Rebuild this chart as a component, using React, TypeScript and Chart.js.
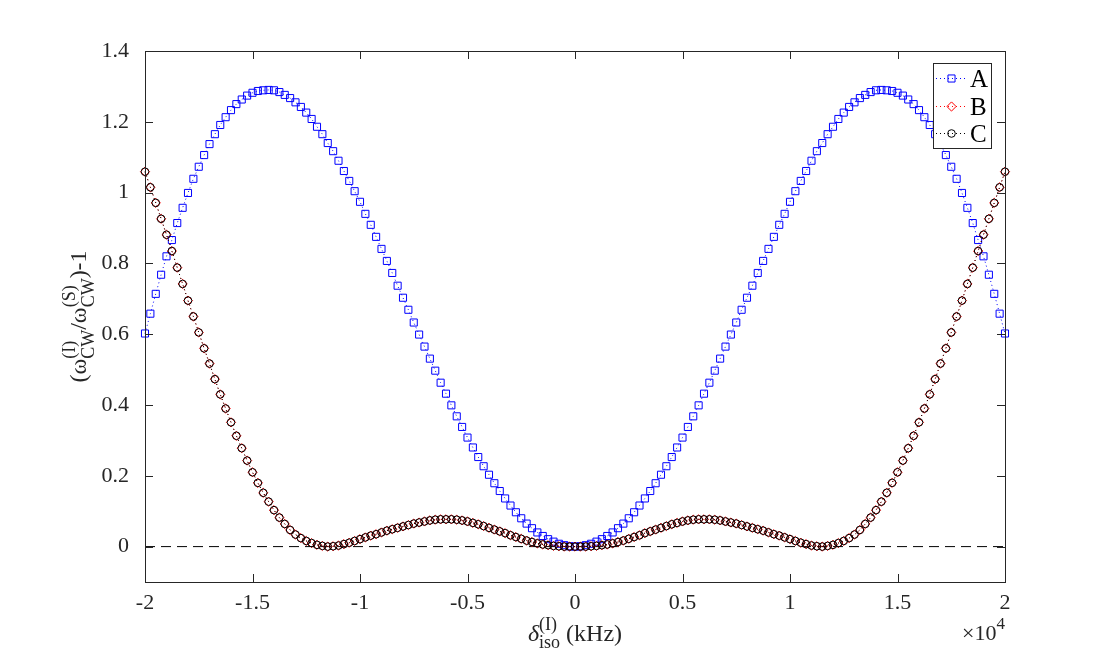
import { useEffect, useRef } from 'react'
import { Chart, registerables } from 'chart.js'
import type { Plugin } from 'chart.js'

Chart.register(...registerables)

const FONT = '"Liberation Serif", "Times New Roman", serif'
const AXIS = '#262626'

// isotropic shift, Hz (plotted with a x10^4 multiplier)
const deltaIso = [
  -20000, -19750, -19500, -19250, -19000, -18750, -18500, -18250, -18000, -17750,
  -17500, -17250, -17000, -16750, -16500, -16250, -16000, -15750, -15500, -15250,
  -15000, -14750, -14500, -14250, -14000, -13750, -13500, -13250, -13000, -12750,
  -12500, -12250, -12000, -11750, -11500, -11250, -11000, -10750, -10500, -10250,
  -10000, -9750, -9500, -9250, -9000, -8750, -8500, -8250, -8000, -7750,
  -7500, -7250, -7000, -6750, -6500, -6250, -6000, -5750, -5500, -5250,
  -5000, -4750, -4500, -4250, -4000, -3750, -3500, -3250, -3000, -2750,
  -2500, -2250, -2000, -1750, -1500, -1250, -1000, -750, -500, -250,
  0,
  250, 500, 750, 1000, 1250, 1500, 1750, 2000, 2250, 2500,
  2750, 3000, 3250, 3500, 3750, 4000, 4250, 4500, 4750, 5000,
  5250, 5500, 5750, 6000, 6250, 6500, 6750, 7000, 7250, 7500,
  7750, 8000, 8250, 8500, 8750, 9000, 9250, 9500, 9750, 10000,
  10250, 10500, 10750, 11000, 11250, 11500, 11750, 12000, 12250, 12500,
  12750, 13000, 13250, 13500, 13750, 14000, 14250, 14500, 14750, 15000,
  15250, 15500, 15750, 16000, 16250, 16500, 16750, 17000, 17250, 17500,
  17750, 18000, 18250, 18500, 18750, 19000, 19250, 19500, 19750, 20000,
]

const seriesA = [
  0.602, 0.658, 0.714, 0.768, 0.820, 0.866, 0.914, 0.957, 0.999, 1.039,
  1.073, 1.106, 1.137, 1.165, 1.191, 1.213, 1.233, 1.250, 1.263, 1.274,
  1.282, 1.287, 1.289, 1.290, 1.289, 1.284, 1.276, 1.267, 1.255, 1.242,
  1.226, 1.208, 1.186, 1.165, 1.140, 1.117, 1.090, 1.061, 1.033, 1.004,
  0.974, 0.940, 0.909, 0.875, 0.841, 0.807, 0.773, 0.737, 0.703, 0.669,
  0.633, 0.599, 0.565, 0.531, 0.497, 0.463, 0.432, 0.399, 0.368, 0.338,
  0.308, 0.280, 0.253, 0.227, 0.203, 0.179, 0.157, 0.136, 0.116, 0.097,
  0.080, 0.065, 0.052, 0.040, 0.030, 0.021, 0.014, 0.008, 0.004, 0.001,
  0.000,
  0.001, 0.004, 0.008, 0.014, 0.021, 0.030, 0.040, 0.052, 0.065, 0.080,
  0.097, 0.116, 0.136, 0.157, 0.179, 0.203, 0.227, 0.253, 0.280, 0.308,
  0.338, 0.368, 0.399, 0.432, 0.463, 0.497, 0.531, 0.565, 0.599, 0.633,
  0.669, 0.703, 0.737, 0.773, 0.807, 0.841, 0.875, 0.909, 0.940, 0.974,
  1.004, 1.033, 1.061, 1.090, 1.117, 1.140, 1.165, 1.186, 1.208, 1.226,
  1.242, 1.255, 1.267, 1.276, 1.284, 1.289, 1.290, 1.289, 1.287, 1.282,
  1.274, 1.263, 1.250, 1.233, 1.213, 1.191, 1.165, 1.137, 1.106, 1.073,
  1.039, 0.999, 0.957, 0.914, 0.866, 0.820, 0.768, 0.714, 0.658, 0.602,
]

const seriesB = [
  1.059, 1.015, 0.971, 0.926, 0.881, 0.835, 0.788, 0.742, 0.695, 0.650,
  0.605, 0.560, 0.517, 0.473, 0.430, 0.390, 0.351, 0.313, 0.278, 0.243,
  0.210, 0.180, 0.152, 0.127, 0.103, 0.082, 0.064, 0.047, 0.034, 0.024,
  0.016, 0.010, 0.005, 0.002, 0.000, 0.001, 0.003, 0.007, 0.011, 0.016,
  0.021, 0.026, 0.031, 0.035, 0.040, 0.045, 0.049, 0.053, 0.057, 0.061,
  0.065, 0.068, 0.071, 0.074, 0.076, 0.077, 0.077, 0.077, 0.076, 0.074,
  0.071, 0.067, 0.063, 0.058, 0.053, 0.048, 0.043, 0.038, 0.032, 0.027,
  0.022, 0.017, 0.013, 0.009, 0.006, 0.004, 0.002, 0.001, 0.000, 0.000,
  0.000,
  0.000, 0.000, 0.001, 0.002, 0.004, 0.006, 0.009, 0.013, 0.017, 0.022,
  0.027, 0.032, 0.038, 0.043, 0.048, 0.053, 0.058, 0.063, 0.067, 0.071,
  0.074, 0.076, 0.077, 0.077, 0.077, 0.076, 0.074, 0.071, 0.068, 0.065,
  0.061, 0.057, 0.053, 0.049, 0.045, 0.040, 0.035, 0.031, 0.026, 0.021,
  0.016, 0.011, 0.007, 0.003, 0.001, 0.000, 0.002, 0.005, 0.010, 0.016,
  0.024, 0.034, 0.047, 0.064, 0.082, 0.103, 0.127, 0.152, 0.180, 0.210,
  0.243, 0.278, 0.313, 0.351, 0.390, 0.430, 0.473, 0.517, 0.560, 0.605,
  0.650, 0.695, 0.742, 0.788, 0.835, 0.881, 0.926, 0.971, 1.015, 1.059,
]

const seriesC = [
  1.059, 1.015, 0.971, 0.926, 0.881, 0.835, 0.788, 0.742, 0.695, 0.650,
  0.605, 0.560, 0.517, 0.473, 0.430, 0.390, 0.351, 0.313, 0.278, 0.243,
  0.210, 0.180, 0.152, 0.127, 0.103, 0.082, 0.064, 0.047, 0.034, 0.024,
  0.016, 0.010, 0.005, 0.002, 0.000, 0.001, 0.003, 0.007, 0.011, 0.016,
  0.021, 0.026, 0.031, 0.035, 0.040, 0.045, 0.049, 0.053, 0.057, 0.061,
  0.065, 0.068, 0.071, 0.074, 0.076, 0.077, 0.077, 0.077, 0.076, 0.074,
  0.071, 0.067, 0.063, 0.058, 0.053, 0.048, 0.043, 0.038, 0.032, 0.027,
  0.022, 0.017, 0.013, 0.009, 0.006, 0.004, 0.002, 0.001, 0.000, 0.000,
  0.000,
  0.000, 0.000, 0.001, 0.002, 0.004, 0.006, 0.009, 0.013, 0.017, 0.022,
  0.027, 0.032, 0.038, 0.043, 0.048, 0.053, 0.058, 0.063, 0.067, 0.071,
  0.074, 0.076, 0.077, 0.077, 0.077, 0.076, 0.074, 0.071, 0.068, 0.065,
  0.061, 0.057, 0.053, 0.049, 0.045, 0.040, 0.035, 0.031, 0.026, 0.021,
  0.016, 0.011, 0.007, 0.003, 0.001, 0.000, 0.002, 0.005, 0.010, 0.016,
  0.024, 0.034, 0.047, 0.064, 0.082, 0.103, 0.127, 0.152, 0.180, 0.210,
  0.243, 0.278, 0.313, 0.351, 0.390, 0.430, 0.473, 0.517, 0.560, 0.605,
  0.650, 0.695, 0.742, 0.788, 0.835, 0.881, 0.926, 0.971, 1.015, 1.059,
]

const xTicks = [-20000, -15000, -10000, -5000, 0, 5000, 10000, 15000, 20000]
const xTickLabels = ['-2', '-1.5', '-1', '-0.5', '0', '0.5', '1', '1.5', '2']
const yTicks = [0, 0.2, 0.4, 0.6, 0.8, 1, 1.2, 1.4]
const yTickLabels = ['0', '0.2', '0.4', '0.6', '0.8', '1', '1.2', '1.4']

const names = ['A', 'B', 'C']
const colors = ['#0000ff', '#ff0000', '#000000']
const markers = ['rect', 'rectRot', 'circle']
const sizes = [5, 4.6, 3.8]

type Part = { t: string; sup?: string; sub?: string; italic?: boolean }

// draws a line of text with stacked super/subscripts, returns its width
function rich(ctx: CanvasRenderingContext2D, parts: Part[], x: number, y: number,
  big: number, small: number, supDy: number, subDy: number, draw: boolean) {
  let cx = x
  for (const p of parts) {
    ctx.font = `${p.italic ? 'italic ' : ''}${big}px ${FONT}`
    if (draw) ctx.fillText(p.t, cx, y)
    cx += ctx.measureText(p.t).width
    if (p.sup || p.sub) {
      ctx.font = `${small}px ${FONT}`
      let w = 0
      if (p.sup) {
        if (draw) ctx.fillText(p.sup, cx, y + supDy)
        w = Math.max(w, ctx.measureText(p.sup).width)
      }
      if (p.sub) {
        if (draw) ctx.fillText(p.sub, cx, y + subDy)
        w = Math.max(w, ctx.measureText(p.sub).width)
      }
      cx += w
    }
  }
  return cx - x
}

function marker(ctx: CanvasRenderingContext2D, i: number, x: number, y: number) {
  const r = sizes[i]
  ctx.save()
  ctx.setLineDash([])
  ctx.strokeStyle = colors[i]
  ctx.lineWidth = 1
  ctx.beginPath()
  if (markers[i] === 'rect') {
    const h = r * Math.SQRT1_2
    ctx.rect(x - h, y - h, 2 * h, 2 * h)
  } else if (markers[i] === 'rectRot') {
    ctx.moveTo(x - r, y)
    ctx.lineTo(x, y - r)
    ctx.lineTo(x + r, y)
    ctx.lineTo(x, y + r)
    ctx.closePath()
  } else {
    ctx.arc(x, y, r, 0, Math.PI * 2)
  }
  ctx.stroke()
  ctx.restore()
}

const framePlugin: Plugin<'line'> = {
  id: 'frame',
  afterDatasetsDraw(chart) {
    const { ctx, chartArea: a } = chart
    const x = chart.scales.x
    const y = chart.scales.y
    ctx.save()
    ctx.strokeStyle = AXIS
    ctx.lineWidth = 1
    ctx.setLineDash([])
    ctx.beginPath()
    for (const v of xTicks) {
      const px = Math.round(x.getPixelForValue(v)) + 0.5
      ctx.moveTo(px, a.bottom)
      ctx.lineTo(px, a.bottom - 8)
      ctx.moveTo(px, a.top)
      ctx.lineTo(px, a.top + 8)
    }
    for (const v of yTicks) {
      const py = Math.round(y.getPixelForValue(v)) + 0.5
      ctx.moveTo(a.left, py)
      ctx.lineTo(a.left + 8, py)
      ctx.moveTo(a.right, py)
      ctx.lineTo(a.right - 8, py)
    }
    ctx.stroke()
    ctx.strokeRect(a.left + 0.5, a.top + 0.5, a.right - a.left, a.bottom - a.top)
    ctx.restore()
  },
  afterDraw(chart) {
    const { ctx, chartArea: a } = chart
    ctx.save()
    ctx.fillStyle = AXIS
    ctx.textBaseline = 'alphabetic'
    ctx.textAlign = 'left'

    // x axis title
    const xParts: Part[] = [{ t: 'δ', italic: true, sup: '(I)', sub: 'iso' }, { t: ' (kHz)' }]
    const xw = rich(ctx, xParts, 0, 0, 24, 18, -11, 7, false)
    rich(ctx, xParts, (a.left + a.right) / 2 - xw / 2, 641, 24, 18, -11, 7, true)

    // exponent
    const eParts: Part[] = [{ t: '×10', sup: '4' }]
    const ew = rich(ctx, eParts, 0, 0, 22, 17, -11, 0, false)
    rich(ctx, eParts, a.right - ew, 640, 22, 17, -11, 0, true)

    // y axis title
    const yParts: Part[] = [
      { t: '(' }, { t: 'ω', sup: '(I)', sub: 'CW' }, { t: '/' },
      { t: 'ω', sup: '(S)', sub: 'CW' }, { t: ')-1' },
    ]
    const yw = rich(ctx, yParts, 0, 0, 24, 18, -11, 8, false)
    ctx.translate(86, (a.top + a.bottom) / 2)
    ctx.rotate(-Math.PI / 2)
    rich(ctx, yParts, -yw / 2, 0, 24, 18, -11, 8, true)
    ctx.restore()

    // legend
    ctx.save()
    ctx.fillStyle = '#ffffff'
    ctx.fillRect(933.5, 63.5, 58, 85)
    ctx.strokeStyle = AXIS
    ctx.lineWidth = 1
    ctx.strokeRect(933.5, 63.5, 58, 85)
    const rows = [78, 106, 133]
    names.forEach((n, i) => {
      const ly = rows[i]
      ctx.strokeStyle = colors[i]
      ctx.setLineDash([1, 3])
      ctx.beginPath()
      ctx.moveTo(936, ly + 0.5)
      ctx.lineTo(966, ly + 0.5)
      ctx.stroke()
      marker(ctx, i, 951.5, ly + 0.5)
      ctx.fillStyle = '#000000'
      ctx.font = `25px ${FONT}`
      ctx.fillText(n, 970, ly + 9)
    })
    ctx.restore()
  },
}

function series(i: number, values: number[], order: number) {
  return {
    label: names[i],
    data: deltaIso.map((x, k) => ({ x, y: values[k] })),
    borderColor: colors[i],
    borderWidth: 1,
    borderDash: [1, 3],
    pointStyle: markers[i],
    pointRadius: sizes[i],
    pointBorderColor: colors[i],
    pointBackgroundColor: 'rgba(0,0,0,0)',
    pointBorderWidth: 1,
    tension: 0,
    clip: false as const,
    order,
  }
}

export default function App() {
  const ref = useRef<HTMLCanvasElement>(null)

  useEffect(() => {
    if (!ref.current) return
    const chart = new Chart(ref.current, {
      type: 'line',
      data: {
        datasets: [
          {
            label: 'zero',
            data: [{ x: xTicks[0], y: 0 }, { x: xTicks[xTicks.length - 1], y: 0 }],
            borderColor: '#000000',
            borderWidth: 1,
            borderDash: [10, 6],
            pointRadius: 0,
            order: 4,
          },
          series(0, seriesA, 3),
          series(1, seriesB, 2),
          series(2, seriesC, 1),
        ] as any,
      },
      options: {
        animation: false,
        responsive: false,
        layout: { padding: { top: 51, right: 105, bottom: 0, left: 0 } },
        plugins: { legend: { display: false }, tooltip: { enabled: false } },
        scales: {
          x: {
            type: 'linear',
            min: -20000,
            max: 20000,
            grid: { display: false },
            border: { display: false },
            afterBuildTicks: (s: any) => { s.ticks = xTicks.map(v => ({ value: v })) },
            afterFit: (s: any) => { s.height = 84 },
            ticks: {
              autoSkip: false,
              maxRotation: 0,
              padding: 0,
              color: AXIS,
              font: { family: FONT, size: 22 },
              callback: (v: any) => xTickLabels[xTicks.indexOf(Number(v))] ?? '',
            },
          },
          y: {
            type: 'linear',
            min: -0.1,
            max: 1.4,
            grid: { display: false },
            border: { display: false },
            afterBuildTicks: (s: any) => { s.ticks = yTicks.map(v => ({ value: v })) },
            afterFit: (s: any) => { s.width = 145 },
            ticks: {
              autoSkip: false,
              padding: 8,
              color: AXIS,
              font: { family: FONT, size: 22 },
              callback: (v: any) => yTickLabels[yTicks.indexOf(Number(v))] ?? '',
            },
          },
        },
      },
      plugins: [framePlugin],
    })
    return () => chart.destroy()
  }, [])

  return (
    <div style={{ position: 'fixed', left: 0, top: 0, width: 1110, height: 666, background: '#ffffff' }}>
      <canvas ref={ref} width={1110} height={666} style={{ width: 1110, height: 666 }} />
    </div>
  )
}
